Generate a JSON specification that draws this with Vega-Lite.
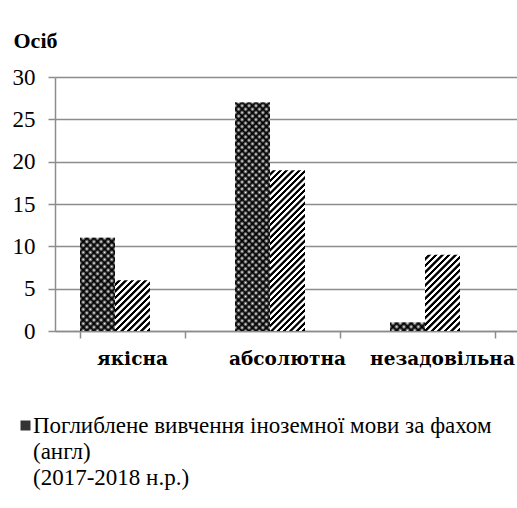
{
 "$schema":"https://vega.github.io/schema/vega-lite/v6.json",
 "width":465,"height":254,
 "padding":{"left":12,"top":29,"right":0,"bottom":0},
 "background":"white",
 "config":{"view":{"stroke":null},"axis":{"domainColor":"#8c8c8c","tickColor":"#8c8c8c","gridColor":"#8c8c8c","domainWidth":1.5,"tickWidth":1.5,"gridWidth":1.5,"labelColor":"#000","titleColor":"#000"}},
 "data":{"values":[
  {"category":"якісна","series":"Поглиблене вивчення іноземної мови за фахом (англ) (2017-2018 н.р.)","value":11},
  {"category":"якісна","series":"Поглиблене вивчення іноземної мови за фахом (англ) (2018-2019 н.р.)","value":6},
  {"category":"абсолютна","series":"Поглиблене вивчення іноземної мови за фахом (англ) (2017-2018 н.р.)","value":27},
  {"category":"абсолютна","series":"Поглиблене вивчення іноземної мови за фахом (англ) (2018-2019 н.р.)","value":19},
  {"category":"незадовільна","series":"Поглиблене вивчення іноземної мови за фахом (англ) (2017-2018 н.р.)","value":1},
  {"category":"незадовільна","series":"Поглиблене вивчення іноземної мови за фахом (англ) (2018-2019 н.р.)","value":9}
 ]},
 "encoding":{
  "x":{"field":"category","type":"nominal","sort":["якісна","абсолютна","незадовільна"],"scale":{"paddingInner":0.3226,"paddingOuter":0.1613},"axis":{"title":null,"labels":false,"tickBand":"extent","tickSize":7,"grid":false}},
  "y":{"field":"value","type":"quantitative","scale":{"domain":[0,30],"nice":false},"axis":{"values":[0,5,10,15,20,25,30],"title":"Осіб","titleAngle":0,"titleX":-42,"titleY":-37,"titleAlign":"left","titleBaseline":"middle","titleFont":"Liberation Serif","titleFontSize":22,"titleFontWeight":"bold","labelFont":"Liberation Serif","labelFontSize":23,"tickSize":7,"labelPadding":13,"grid":true}}
 },
 "layer":[
  {"mark":{"type":"bar","strokeWidth":0},
   "encoding":{
    "xOffset":{"field":"series","type":"nominal","scale":{"domain":["Поглиблене вивчення іноземної мови за фахом (англ) (2017-2018 н.р.)","Поглиблене вивчення іноземної мови за фахом (англ) (2018-2019 н.р.)","Поглиблене вивчення іноземної мови за фахом (англ) (2019-2020 н.р.)"]}},
    "fill":{
    "condition":[
     {"test":"datum.value===11","value":{"gradient":"linear","x1":0,"y1":0,"x2":0.4531,"y2":1.2055,"stops":[{"offset":0,"color":"#000"},{"offset":0.0278,"color":"#fff"},{"offset":0.0556,"color":"#000"},{"offset":0.0833,"color":"#fff"},{"offset":0.1111,"color":"#000"},{"offset":0.1389,"color":"#fff"},{"offset":0.1667,"color":"#000"},{"offset":0.1944,"color":"#fff"},{"offset":0.2222,"color":"#000"},{"offset":0.25,"color":"#fff"},{"offset":0.2778,"color":"#000"},{"offset":0.3056,"color":"#fff"},{"offset":0.3333,"color":"#000"},{"offset":0.3611,"color":"#fff"},{"offset":0.3889,"color":"#000"},{"offset":0.4167,"color":"#fff"},{"offset":0.4444,"color":"#000"},{"offset":0.4722,"color":"#fff"},{"offset":0.5,"color":"#000"},{"offset":0.5278,"color":"#fff"},{"offset":0.5556,"color":"#000"},{"offset":0.5833,"color":"#fff"},{"offset":0.6111,"color":"#000"},{"offset":0.6389,"color":"#fff"},{"offset":0.6667,"color":"#000"},{"offset":0.6944,"color":"#fff"},{"offset":0.7222,"color":"#000"},{"offset":0.75,"color":"#fff"},{"offset":0.7778,"color":"#000"},{"offset":0.8056,"color":"#fff"},{"offset":0.8333,"color":"#000"},{"offset":0.8611,"color":"#fff"},{"offset":0.8889,"color":"#000"},{"offset":0.9167,"color":"#fff"},{"offset":0.9444,"color":"#000"},{"offset":0.9722,"color":"#fff"},{"offset":1,"color":"#000"}]}},
     {"test":"datum.value===27","value":{"gradient":"linear","x1":0,"y1":0,"x2":0.1725,"y2":1.1267,"stops":[{"offset":0,"color":"#000"},{"offset":0.0132,"color":"#fff"},{"offset":0.0263,"color":"#000"},{"offset":0.0395,"color":"#fff"},{"offset":0.0526,"color":"#000"},{"offset":0.0658,"color":"#fff"},{"offset":0.0789,"color":"#000"},{"offset":0.0921,"color":"#fff"},{"offset":0.1053,"color":"#000"},{"offset":0.1184,"color":"#fff"},{"offset":0.1316,"color":"#000"},{"offset":0.1447,"color":"#fff"},{"offset":0.1579,"color":"#000"},{"offset":0.1711,"color":"#fff"},{"offset":0.1842,"color":"#000"},{"offset":0.1974,"color":"#fff"},{"offset":0.2105,"color":"#000"},{"offset":0.2237,"color":"#fff"},{"offset":0.2368,"color":"#000"},{"offset":0.25,"color":"#fff"},{"offset":0.2632,"color":"#000"},{"offset":0.2763,"color":"#fff"},{"offset":0.2895,"color":"#000"},{"offset":0.3026,"color":"#fff"},{"offset":0.3158,"color":"#000"},{"offset":0.3289,"color":"#fff"},{"offset":0.3421,"color":"#000"},{"offset":0.3553,"color":"#fff"},{"offset":0.3684,"color":"#000"},{"offset":0.3816,"color":"#fff"},{"offset":0.3947,"color":"#000"},{"offset":0.4079,"color":"#fff"},{"offset":0.4211,"color":"#000"},{"offset":0.4342,"color":"#fff"},{"offset":0.4474,"color":"#000"},{"offset":0.4605,"color":"#fff"},{"offset":0.4737,"color":"#000"},{"offset":0.4868,"color":"#fff"},{"offset":0.5,"color":"#000"},{"offset":0.5132,"color":"#fff"},{"offset":0.5263,"color":"#000"},{"offset":0.5395,"color":"#fff"},{"offset":0.5526,"color":"#000"},{"offset":0.5658,"color":"#fff"},{"offset":0.5789,"color":"#000"},{"offset":0.5921,"color":"#fff"},{"offset":0.6053,"color":"#000"},{"offset":0.6184,"color":"#fff"},{"offset":0.6316,"color":"#000"},{"offset":0.6447,"color":"#fff"},{"offset":0.6579,"color":"#000"},{"offset":0.6711,"color":"#fff"},{"offset":0.6842,"color":"#000"},{"offset":0.6974,"color":"#fff"},{"offset":0.7105,"color":"#000"},{"offset":0.7237,"color":"#fff"},{"offset":0.7368,"color":"#000"},{"offset":0.75,"color":"#fff"},{"offset":0.7632,"color":"#000"},{"offset":0.7763,"color":"#fff"},{"offset":0.7895,"color":"#000"},{"offset":0.8026,"color":"#fff"},{"offset":0.8158,"color":"#000"},{"offset":0.8289,"color":"#fff"},{"offset":0.8421,"color":"#000"},{"offset":0.8553,"color":"#fff"},{"offset":0.8684,"color":"#000"},{"offset":0.8816,"color":"#fff"},{"offset":0.8947,"color":"#000"},{"offset":0.9079,"color":"#fff"},{"offset":0.9211,"color":"#000"},{"offset":0.9342,"color":"#fff"},{"offset":0.9474,"color":"#000"},{"offset":0.9605,"color":"#fff"},{"offset":0.9737,"color":"#000"},{"offset":0.9868,"color":"#fff"},{"offset":1,"color":"#000"}]}},
     {"test":"datum.value===1","value":{"gradient":"linear","x1":0,"y1":0,"x2":1.1733,"y2":0.2838,"stops":[{"offset":0,"color":"#000"},{"offset":0.0833,"color":"#fff"},{"offset":0.1667,"color":"#000"},{"offset":0.25,"color":"#fff"},{"offset":0.3333,"color":"#000"},{"offset":0.4167,"color":"#fff"},{"offset":0.5,"color":"#000"},{"offset":0.5833,"color":"#fff"},{"offset":0.6667,"color":"#000"},{"offset":0.75,"color":"#fff"},{"offset":0.8333,"color":"#000"},{"offset":0.9167,"color":"#fff"},{"offset":1,"color":"#000"}]}},
     {"test":"datum.value===6","value":{"gradient":"linear","x1":0,"y1":0,"x2":0.7891,"y2":1.1453,"stops":[{"offset":0,"color":"#fff"},{"offset":0.0308,"color":"#fff"},{"offset":0.0385,"color":"#000"},{"offset":0.0692,"color":"#000"},{"offset":0.0769,"color":"#fff"},{"offset":0.1077,"color":"#fff"},{"offset":0.1154,"color":"#000"},{"offset":0.1462,"color":"#000"},{"offset":0.1538,"color":"#fff"},{"offset":0.1846,"color":"#fff"},{"offset":0.1923,"color":"#000"},{"offset":0.2231,"color":"#000"},{"offset":0.2308,"color":"#fff"},{"offset":0.2615,"color":"#fff"},{"offset":0.2692,"color":"#000"},{"offset":0.3,"color":"#000"},{"offset":0.3077,"color":"#fff"},{"offset":0.3385,"color":"#fff"},{"offset":0.3462,"color":"#000"},{"offset":0.3769,"color":"#000"},{"offset":0.3846,"color":"#fff"},{"offset":0.4154,"color":"#fff"},{"offset":0.4231,"color":"#000"},{"offset":0.4538,"color":"#000"},{"offset":0.4615,"color":"#fff"},{"offset":0.4923,"color":"#fff"},{"offset":0.5,"color":"#000"},{"offset":0.5308,"color":"#000"},{"offset":0.5385,"color":"#fff"},{"offset":0.5692,"color":"#fff"},{"offset":0.5769,"color":"#000"},{"offset":0.6077,"color":"#000"},{"offset":0.6154,"color":"#fff"},{"offset":0.6462,"color":"#fff"},{"offset":0.6538,"color":"#000"},{"offset":0.6846,"color":"#000"},{"offset":0.6923,"color":"#fff"},{"offset":0.7231,"color":"#fff"},{"offset":0.7308,"color":"#000"},{"offset":0.7615,"color":"#000"},{"offset":0.7692,"color":"#fff"},{"offset":0.8,"color":"#fff"},{"offset":0.8077,"color":"#000"},{"offset":0.8385,"color":"#000"},{"offset":0.8462,"color":"#fff"},{"offset":0.8769,"color":"#fff"},{"offset":0.8846,"color":"#000"},{"offset":0.9154,"color":"#000"},{"offset":0.9231,"color":"#fff"},{"offset":0.9538,"color":"#fff"},{"offset":0.9615,"color":"#000"},{"offset":0.9923,"color":"#000"},{"offset":1,"color":"#fff"}]}},
     {"test":"datum.value===19","value":{"gradient":"linear","x1":0,"y1":0,"x2":0.2529,"y2":1.1625,"stops":[{"offset":0,"color":"#fff"},{"offset":0.0129,"color":"#fff"},{"offset":0.0161,"color":"#000"},{"offset":0.029,"color":"#000"},{"offset":0.0323,"color":"#fff"},{"offset":0.0452,"color":"#fff"},{"offset":0.0484,"color":"#000"},{"offset":0.0613,"color":"#000"},{"offset":0.0645,"color":"#fff"},{"offset":0.0774,"color":"#fff"},{"offset":0.0806,"color":"#000"},{"offset":0.0935,"color":"#000"},{"offset":0.0968,"color":"#fff"},{"offset":0.1097,"color":"#fff"},{"offset":0.1129,"color":"#000"},{"offset":0.1258,"color":"#000"},{"offset":0.129,"color":"#fff"},{"offset":0.1419,"color":"#fff"},{"offset":0.1452,"color":"#000"},{"offset":0.1581,"color":"#000"},{"offset":0.1613,"color":"#fff"},{"offset":0.1742,"color":"#fff"},{"offset":0.1774,"color":"#000"},{"offset":0.1903,"color":"#000"},{"offset":0.1935,"color":"#fff"},{"offset":0.2065,"color":"#fff"},{"offset":0.2097,"color":"#000"},{"offset":0.2226,"color":"#000"},{"offset":0.2258,"color":"#fff"},{"offset":0.2387,"color":"#fff"},{"offset":0.2419,"color":"#000"},{"offset":0.2548,"color":"#000"},{"offset":0.2581,"color":"#fff"},{"offset":0.271,"color":"#fff"},{"offset":0.2742,"color":"#000"},{"offset":0.2871,"color":"#000"},{"offset":0.2903,"color":"#fff"},{"offset":0.3032,"color":"#fff"},{"offset":0.3065,"color":"#000"},{"offset":0.3194,"color":"#000"},{"offset":0.3226,"color":"#fff"},{"offset":0.3355,"color":"#fff"},{"offset":0.3387,"color":"#000"},{"offset":0.3516,"color":"#000"},{"offset":0.3548,"color":"#fff"},{"offset":0.3677,"color":"#fff"},{"offset":0.371,"color":"#000"},{"offset":0.3839,"color":"#000"},{"offset":0.3871,"color":"#fff"},{"offset":0.4,"color":"#fff"},{"offset":0.4032,"color":"#000"},{"offset":0.4161,"color":"#000"},{"offset":0.4194,"color":"#fff"},{"offset":0.4323,"color":"#fff"},{"offset":0.4355,"color":"#000"},{"offset":0.4484,"color":"#000"},{"offset":0.4516,"color":"#fff"},{"offset":0.4645,"color":"#fff"},{"offset":0.4677,"color":"#000"},{"offset":0.4806,"color":"#000"},{"offset":0.4839,"color":"#fff"},{"offset":0.4968,"color":"#fff"},{"offset":0.5,"color":"#000"},{"offset":0.5129,"color":"#000"},{"offset":0.5161,"color":"#fff"},{"offset":0.529,"color":"#fff"},{"offset":0.5323,"color":"#000"},{"offset":0.5452,"color":"#000"},{"offset":0.5484,"color":"#fff"},{"offset":0.5613,"color":"#fff"},{"offset":0.5645,"color":"#000"},{"offset":0.5774,"color":"#000"},{"offset":0.5806,"color":"#fff"},{"offset":0.5935,"color":"#fff"},{"offset":0.5968,"color":"#000"},{"offset":0.6097,"color":"#000"},{"offset":0.6129,"color":"#fff"},{"offset":0.6258,"color":"#fff"},{"offset":0.629,"color":"#000"},{"offset":0.6419,"color":"#000"},{"offset":0.6452,"color":"#fff"},{"offset":0.6581,"color":"#fff"},{"offset":0.6613,"color":"#000"},{"offset":0.6742,"color":"#000"},{"offset":0.6774,"color":"#fff"},{"offset":0.6903,"color":"#fff"},{"offset":0.6935,"color":"#000"},{"offset":0.7065,"color":"#000"},{"offset":0.7097,"color":"#fff"},{"offset":0.7226,"color":"#fff"},{"offset":0.7258,"color":"#000"},{"offset":0.7387,"color":"#000"},{"offset":0.7419,"color":"#fff"},{"offset":0.7548,"color":"#fff"},{"offset":0.7581,"color":"#000"},{"offset":0.771,"color":"#000"},{"offset":0.7742,"color":"#fff"},{"offset":0.7871,"color":"#fff"},{"offset":0.7903,"color":"#000"},{"offset":0.8032,"color":"#000"},{"offset":0.8065,"color":"#fff"},{"offset":0.8194,"color":"#fff"},{"offset":0.8226,"color":"#000"},{"offset":0.8355,"color":"#000"},{"offset":0.8387,"color":"#fff"},{"offset":0.8516,"color":"#fff"},{"offset":0.8548,"color":"#000"},{"offset":0.8677,"color":"#000"},{"offset":0.871,"color":"#fff"},{"offset":0.8839,"color":"#fff"},{"offset":0.8871,"color":"#000"},{"offset":0.9,"color":"#000"},{"offset":0.9032,"color":"#fff"},{"offset":0.9161,"color":"#fff"},{"offset":0.9194,"color":"#000"},{"offset":0.9323,"color":"#000"},{"offset":0.9355,"color":"#fff"},{"offset":0.9484,"color":"#fff"},{"offset":0.9516,"color":"#000"},{"offset":0.9645,"color":"#000"},{"offset":0.9677,"color":"#fff"},{"offset":0.9806,"color":"#fff"},{"offset":0.9839,"color":"#000"},{"offset":0.9968,"color":"#000"},{"offset":1,"color":"#fff"}]}},
     {"test":"datum.value===9","value":{"gradient":"linear","x1":0,"y1":0,"x2":0.5535,"y2":1.2051,"stops":[{"offset":0,"color":"#fff"},{"offset":0.0235,"color":"#fff"},{"offset":0.0294,"color":"#000"},{"offset":0.0529,"color":"#000"},{"offset":0.0588,"color":"#fff"},{"offset":0.0824,"color":"#fff"},{"offset":0.0882,"color":"#000"},{"offset":0.1118,"color":"#000"},{"offset":0.1176,"color":"#fff"},{"offset":0.1412,"color":"#fff"},{"offset":0.1471,"color":"#000"},{"offset":0.1706,"color":"#000"},{"offset":0.1765,"color":"#fff"},{"offset":0.2,"color":"#fff"},{"offset":0.2059,"color":"#000"},{"offset":0.2294,"color":"#000"},{"offset":0.2353,"color":"#fff"},{"offset":0.2588,"color":"#fff"},{"offset":0.2647,"color":"#000"},{"offset":0.2882,"color":"#000"},{"offset":0.2941,"color":"#fff"},{"offset":0.3176,"color":"#fff"},{"offset":0.3235,"color":"#000"},{"offset":0.3471,"color":"#000"},{"offset":0.3529,"color":"#fff"},{"offset":0.3765,"color":"#fff"},{"offset":0.3824,"color":"#000"},{"offset":0.4059,"color":"#000"},{"offset":0.4118,"color":"#fff"},{"offset":0.4353,"color":"#fff"},{"offset":0.4412,"color":"#000"},{"offset":0.4647,"color":"#000"},{"offset":0.4706,"color":"#fff"},{"offset":0.4941,"color":"#fff"},{"offset":0.5,"color":"#000"},{"offset":0.5235,"color":"#000"},{"offset":0.5294,"color":"#fff"},{"offset":0.5529,"color":"#fff"},{"offset":0.5588,"color":"#000"},{"offset":0.5824,"color":"#000"},{"offset":0.5882,"color":"#fff"},{"offset":0.6118,"color":"#fff"},{"offset":0.6176,"color":"#000"},{"offset":0.6412,"color":"#000"},{"offset":0.6471,"color":"#fff"},{"offset":0.6706,"color":"#fff"},{"offset":0.6765,"color":"#000"},{"offset":0.7,"color":"#000"},{"offset":0.7059,"color":"#fff"},{"offset":0.7294,"color":"#fff"},{"offset":0.7353,"color":"#000"},{"offset":0.7588,"color":"#000"},{"offset":0.7647,"color":"#fff"},{"offset":0.7882,"color":"#fff"},{"offset":0.7941,"color":"#000"},{"offset":0.8176,"color":"#000"},{"offset":0.8235,"color":"#fff"},{"offset":0.8471,"color":"#fff"},{"offset":0.8529,"color":"#000"},{"offset":0.8765,"color":"#000"},{"offset":0.8824,"color":"#fff"},{"offset":0.9059,"color":"#fff"},{"offset":0.9118,"color":"#000"},{"offset":0.9353,"color":"#000"},{"offset":0.9412,"color":"#fff"},{"offset":0.9647,"color":"#fff"},{"offset":0.9706,"color":"#000"},{"offset":0.9941,"color":"#000"},{"offset":1,"color":"#fff"}]}}
    ],
    "field":"series","type":"nominal",
    "scale":{"domain":["Поглиблене вивчення іноземної мови за фахом (англ) (2017-2018 н.р.)","Поглиблене вивчення іноземної мови за фахом (англ) (2018-2019 н.р.)"],"range":["#333333","#999999"]},
    "legend":{"values":["Поглиблене вивчення іноземної мови за фахом (англ) (2017-2018 н.р.)"],"title":null,"orient":"none","legendX":-41,"legendY":337,"padding":0,"symbolType":"square","symbolSize":100,"symbolStrokeWidth":0,"labelFont":"Liberation Serif","labelFontSize":23,"labelColor":"#000","labelLimit":0,"labelOffset":-4,"labelExpr":"indexof(datum.label,'2017')>=0 ? ['Поглиблене вивчення іноземної мови за фахом','(англ)','(2017-2018 н.р.)'] : datum.label","encode":{"labels":{"update":{"lineHeight":{"value":26}}}}}
   }}},
  {"mark":{"type":"bar","strokeWidth":0},
   "encoding":{
    "xOffset":{"field":"series","type":"nominal","scale":{"domain":["Поглиблене вивчення іноземної мови за фахом (англ) (2017-2018 н.р.)","Поглиблене вивчення іноземної мови за фахом (англ) (2018-2019 н.р.)","Поглиблене вивчення іноземної мови за фахом (англ) (2019-2020 н.р.)"]}},
    "fill":{
    "condition":[
     {"test":"datum.value===11","value":{"gradient":"linear","x1":0,"y1":1,"x2":0.4531,"y2":-0.2055,"stops":[{"offset":0,"color":"#000"},{"offset":0.0278,"color":"rgba(0,0,0,0)"},{"offset":0.0556,"color":"#000"},{"offset":0.0833,"color":"rgba(0,0,0,0)"},{"offset":0.1111,"color":"#000"},{"offset":0.1389,"color":"rgba(0,0,0,0)"},{"offset":0.1667,"color":"#000"},{"offset":0.1944,"color":"rgba(0,0,0,0)"},{"offset":0.2222,"color":"#000"},{"offset":0.25,"color":"rgba(0,0,0,0)"},{"offset":0.2778,"color":"#000"},{"offset":0.3056,"color":"rgba(0,0,0,0)"},{"offset":0.3333,"color":"#000"},{"offset":0.3611,"color":"rgba(0,0,0,0)"},{"offset":0.3889,"color":"#000"},{"offset":0.4167,"color":"rgba(0,0,0,0)"},{"offset":0.4444,"color":"#000"},{"offset":0.4722,"color":"rgba(0,0,0,0)"},{"offset":0.5,"color":"#000"},{"offset":0.5278,"color":"rgba(0,0,0,0)"},{"offset":0.5556,"color":"#000"},{"offset":0.5833,"color":"rgba(0,0,0,0)"},{"offset":0.6111,"color":"#000"},{"offset":0.6389,"color":"rgba(0,0,0,0)"},{"offset":0.6667,"color":"#000"},{"offset":0.6944,"color":"rgba(0,0,0,0)"},{"offset":0.7222,"color":"#000"},{"offset":0.75,"color":"rgba(0,0,0,0)"},{"offset":0.7778,"color":"#000"},{"offset":0.8056,"color":"rgba(0,0,0,0)"},{"offset":0.8333,"color":"#000"},{"offset":0.8611,"color":"rgba(0,0,0,0)"},{"offset":0.8889,"color":"#000"},{"offset":0.9167,"color":"rgba(0,0,0,0)"},{"offset":0.9444,"color":"#000"},{"offset":0.9722,"color":"rgba(0,0,0,0)"},{"offset":1,"color":"#000"}]}},
     {"test":"datum.value===27","value":{"gradient":"linear","x1":0,"y1":1,"x2":0.1725,"y2":-0.1267,"stops":[{"offset":0,"color":"#000"},{"offset":0.0132,"color":"rgba(0,0,0,0)"},{"offset":0.0263,"color":"#000"},{"offset":0.0395,"color":"rgba(0,0,0,0)"},{"offset":0.0526,"color":"#000"},{"offset":0.0658,"color":"rgba(0,0,0,0)"},{"offset":0.0789,"color":"#000"},{"offset":0.0921,"color":"rgba(0,0,0,0)"},{"offset":0.1053,"color":"#000"},{"offset":0.1184,"color":"rgba(0,0,0,0)"},{"offset":0.1316,"color":"#000"},{"offset":0.1447,"color":"rgba(0,0,0,0)"},{"offset":0.1579,"color":"#000"},{"offset":0.1711,"color":"rgba(0,0,0,0)"},{"offset":0.1842,"color":"#000"},{"offset":0.1974,"color":"rgba(0,0,0,0)"},{"offset":0.2105,"color":"#000"},{"offset":0.2237,"color":"rgba(0,0,0,0)"},{"offset":0.2368,"color":"#000"},{"offset":0.25,"color":"rgba(0,0,0,0)"},{"offset":0.2632,"color":"#000"},{"offset":0.2763,"color":"rgba(0,0,0,0)"},{"offset":0.2895,"color":"#000"},{"offset":0.3026,"color":"rgba(0,0,0,0)"},{"offset":0.3158,"color":"#000"},{"offset":0.3289,"color":"rgba(0,0,0,0)"},{"offset":0.3421,"color":"#000"},{"offset":0.3553,"color":"rgba(0,0,0,0)"},{"offset":0.3684,"color":"#000"},{"offset":0.3816,"color":"rgba(0,0,0,0)"},{"offset":0.3947,"color":"#000"},{"offset":0.4079,"color":"rgba(0,0,0,0)"},{"offset":0.4211,"color":"#000"},{"offset":0.4342,"color":"rgba(0,0,0,0)"},{"offset":0.4474,"color":"#000"},{"offset":0.4605,"color":"rgba(0,0,0,0)"},{"offset":0.4737,"color":"#000"},{"offset":0.4868,"color":"rgba(0,0,0,0)"},{"offset":0.5,"color":"#000"},{"offset":0.5132,"color":"rgba(0,0,0,0)"},{"offset":0.5263,"color":"#000"},{"offset":0.5395,"color":"rgba(0,0,0,0)"},{"offset":0.5526,"color":"#000"},{"offset":0.5658,"color":"rgba(0,0,0,0)"},{"offset":0.5789,"color":"#000"},{"offset":0.5921,"color":"rgba(0,0,0,0)"},{"offset":0.6053,"color":"#000"},{"offset":0.6184,"color":"rgba(0,0,0,0)"},{"offset":0.6316,"color":"#000"},{"offset":0.6447,"color":"rgba(0,0,0,0)"},{"offset":0.6579,"color":"#000"},{"offset":0.6711,"color":"rgba(0,0,0,0)"},{"offset":0.6842,"color":"#000"},{"offset":0.6974,"color":"rgba(0,0,0,0)"},{"offset":0.7105,"color":"#000"},{"offset":0.7237,"color":"rgba(0,0,0,0)"},{"offset":0.7368,"color":"#000"},{"offset":0.75,"color":"rgba(0,0,0,0)"},{"offset":0.7632,"color":"#000"},{"offset":0.7763,"color":"rgba(0,0,0,0)"},{"offset":0.7895,"color":"#000"},{"offset":0.8026,"color":"rgba(0,0,0,0)"},{"offset":0.8158,"color":"#000"},{"offset":0.8289,"color":"rgba(0,0,0,0)"},{"offset":0.8421,"color":"#000"},{"offset":0.8553,"color":"rgba(0,0,0,0)"},{"offset":0.8684,"color":"#000"},{"offset":0.8816,"color":"rgba(0,0,0,0)"},{"offset":0.8947,"color":"#000"},{"offset":0.9079,"color":"rgba(0,0,0,0)"},{"offset":0.9211,"color":"#000"},{"offset":0.9342,"color":"rgba(0,0,0,0)"},{"offset":0.9474,"color":"#000"},{"offset":0.9605,"color":"rgba(0,0,0,0)"},{"offset":0.9737,"color":"#000"},{"offset":0.9868,"color":"rgba(0,0,0,0)"},{"offset":1,"color":"#000"}]}},
     {"test":"datum.value===1","value":{"gradient":"linear","x1":0,"y1":1,"x2":1.1733,"y2":0.7162,"stops":[{"offset":0,"color":"#000"},{"offset":0.0833,"color":"rgba(0,0,0,0)"},{"offset":0.1667,"color":"#000"},{"offset":0.25,"color":"rgba(0,0,0,0)"},{"offset":0.3333,"color":"#000"},{"offset":0.4167,"color":"rgba(0,0,0,0)"},{"offset":0.5,"color":"#000"},{"offset":0.5833,"color":"rgba(0,0,0,0)"},{"offset":0.6667,"color":"#000"},{"offset":0.75,"color":"rgba(0,0,0,0)"},{"offset":0.8333,"color":"#000"},{"offset":0.9167,"color":"rgba(0,0,0,0)"},{"offset":1,"color":"#000"}]}}
    ],
    "value":"transparent"
   }}},
  {"transform":[{"filter":"indexof(datum.series,'2017')>=0"}],
   "mark":{"type":"text","font":"DejaVu Serif","fontWeight":"bold","fontSize":18.5,"baseline":"middle","align":"center","dy":28,"color":"#000"},
   "encoding":{"y":{"datum":0},"text":{"field":"category"}}}
 ]
}
